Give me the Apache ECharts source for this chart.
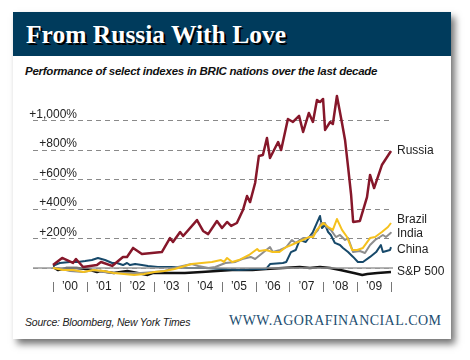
<!DOCTYPE html>
<html>
<head>
<meta charset="utf-8">
<script src="https://cdn.jsdelivr.net/npm/echarts@6/dist/echarts.min.js"></script>
<style>
  html, body { margin:0; padding:0; background:#fff; width:470px; height:360px; overflow:hidden; }
  #card { position:absolute; left:13px; top:12px; width:438px; height:327px; background:#fff;
          box-shadow: 4px 5px 7px rgba(0,0,0,0.55); }
  #head { position:absolute; left:0; top:0; width:438px; height:44px; background:#003b5c; }
  #title { position:absolute; left:13px; top:8px; font-family:"Liberation Serif", serif; font-weight:bold;
           font-size:25.5px; color:#fff; text-shadow: 2px 2px 0 #000; white-space:nowrap; }
  #sub { position:absolute; left:25px; top:65px; font-family:"Liberation Sans", sans-serif; font-weight:bold;
         font-style:italic; font-size:11.5px; color:#111; white-space:nowrap; letter-spacing:-0.25px; }
  #src { position:absolute; left:25px; top:316px; font-family:"Liberation Sans", sans-serif; font-style:italic;
         font-size:10.5px; color:#222; white-space:nowrap; letter-spacing:-0.2px; }
  #url { position:absolute; left:229px; top:313px; font-family:"Liberation Serif", serif;
         font-size:14px; color:#1d4e70; white-space:nowrap; letter-spacing:0.45px; }
  #chart { position:absolute; left:0; top:0; width:470px; height:360px; }
</style>
</head>
<body>
<div id="card"><div id="head"><div id="title">From Russia With Love</div></div></div>
<div id="sub">Performance of select indexes in BRIC nations over the last decade</div>
<div id="src">Source: Bloomberg, New York Times</div>
<div id="url">WWW.AGORAFINANCIAL.COM</div>
<div id="chart"></div>
<script>
// Year labels and tick values
var yearLabels = ["\u201900","\u201901","\u201902","\u201903","\u201904","\u201905","\u201906","\u201907","\u201908","\u201909"];
var yTicks = [200, 400, 600, 800, 1000];

// Series: [year (decimal), % change]
var russia = [[2000.00,20],[2000.27,68],[2000.59,34],[2000.68,61],[2000.89,7],[2001.30,20],[2001.42,41],[2001.75,14],[2002.07,75],[2002.19,75],[2002.37,136],[2002.63,95],[2003.22,108],[2003.46,203],[2003.55,176],[2003.76,244],[2003.85,217],[2004.26,325],[2004.44,251],[2004.59,230],[2004.85,319],[2005.00,271],[2005.15,312],[2005.27,285],[2005.44,305],[2005.62,393],[2005.74,488],[2005.83,447],[2005.98,576],[2006.09,759],[2006.21,766],[2006.33,881],[2006.42,746],[2006.66,854],[2006.75,800],[2006.95,1010],[2007.10,990],[2007.28,1031],[2007.40,922],[2007.57,1051],[2007.69,990],[2007.81,1139],[2007.90,1125],[2007.99,1146],[2008.05,936],[2008.20,990],[2008.28,976],[2008.40,1166],[2008.55,983],[2008.64,868],[2008.73,685],[2008.82,495],[2008.88,312],[2009.08,319],[2009.29,481],[2009.38,631],[2009.50,542],[2009.73,698],[2010.00,793]];

var brazil = [[2000.0,0],[2000.3,-14],[2000.6,-14],[2000.9,-27],[2001.2,-14],[2001.5,-20],[2001.8,-34],[2002.1,-41],[2002.4,-47],[2002.7,-41],[2003.0,-27],[2003.3,-20],[2003.6,-7],[2003.9,14],[2004.1,27],[2004.4,34],[2004.7,41],[2004.97,54],[2005.06,41],[2005.15,68],[2005.3,41],[2005.5,54],[2005.8,88],[2006.04,129],[2006.1,115],[2006.3,122],[2006.5,108],[2006.7,108],[2006.9,142],[2007.05,156],[2007.25,176],[2007.4,190],[2007.57,210],[2007.7,210],[2007.8,258],[2008.0,305],[2008.14,278],[2008.28,258],[2008.4,332],[2008.55,258],[2008.7,210],[2008.85,122],[2009.0,122],[2009.17,136],[2009.38,203],[2009.53,210],[2009.73,244],[2009.91,278],[2010.0,305]];

var india = [[2000.0,0],[2000.15,0],[2000.5,-20],[2000.9,-27],[2001.2,-14],[2001.5,-27],[2001.8,-34],[2002.2,-34],[2002.6,-34],[2003.0,-27],[2003.3,-20],[2003.7,7],[2004.1,27],[2004.3,14],[2004.6,0],[2004.8,7],[2005.1,34],[2005.4,41],[2005.6,61],[2005.85,75],[2005.98,61],[2006.2,102],[2006.42,142],[2006.5,108],[2006.72,122],[2006.9,142],[2007.07,190],[2007.18,170],[2007.4,203],[2007.54,203],[2007.7,224],[2007.84,258],[2007.93,305],[2008.05,305],[2008.08,278],[2008.22,258],[2008.37,210],[2008.49,224],[2008.64,190],[2008.73,203],[2008.88,108],[2009.08,115],[2009.23,102],[2009.38,156],[2009.53,190],[2009.67,210],[2009.76,224],[2009.85,210],[2009.99,237],[2010.0,244]];

var china = [[2000.0,14],[2000.2,34],[2000.5,41],[2000.74,41],[2000.95,47],[2001.15,54],[2001.33,68],[2001.54,54],[2001.75,34],[2001.89,34],[2002.07,20],[2002.19,34],[2002.28,20],[2002.43,27],[2002.63,20],[2002.81,14],[2003.1,7],[2003.5,7],[2004.0,0],[2004.5,0],[2005.0,-7],[2005.5,-14],[2006.0,-7],[2006.3,-7],[2006.42,27],[2006.8,34],[2006.9,41],[2007.04,108],[2007.18,122],[2007.3,190],[2007.48,176],[2007.69,244],[2007.9,353],[2007.96,271],[2008.05,292],[2008.14,244],[2008.22,224],[2008.34,170],[2008.49,156],[2008.58,136],[2008.73,108],[2008.88,75],[2009.02,41],[2009.17,41],[2009.38,75],[2009.56,108],[2009.70,156],[2009.76,108],[2009.97,122],[2010.0,142]];

var sp500 = [[2000.0,7],[2000.15,-14],[2000.4,0],[2000.7,0],[2001.0,-7],[2001.3,-27],[2001.4,-20],[2001.8,-34],[2002.2,-20],[2002.5,-34],[2002.8,-47],[2002.95,-34],[2003.4,-34],[2003.9,-34],[2004.4,-27],[2005.3,-14],[2005.9,-14],[2006.3,-7],[2006.8,0],[2007.3,7],[2007.6,0],[2007.9,7],[2008.2,0],[2008.5,-14],[2008.9,-34],[2009.15,-47],[2009.3,-41],[2009.6,-34],[2010.0,-27]];

var FONT = '"Liberation Sans", Arial, sans-serif';
function mk(name, data, color, width, z, offset) {
  return {
    name: name, type: 'line', data: data, xAxisIndex: 1, yAxisIndex: 1,
    showSymbol: false, symbol: 'none', z: z, animation: false,
    lineStyle: { color: color, width: width, join: 'round' },
    endLabel: { show: true, formatter: name, color: '#222', fontSize: 12, fontFamily: FONT,
                distance: 6, offset: offset || [0,0] }
  };
}

var chart = echarts.init(document.getElementById('chart'), null, { renderer: 'canvas' });
chart.setOption({
  animation: false,
  backgroundColor: 'transparent',
  grid: [
    { left: 33, right: 77, top: 91, bottom: 62.5 },
    { left: 53, right: 79, top: 91, bottom: 62.5 }
  ],
  xAxis: [
    { type: 'value', gridIndex: 0, min: 0, max: 1, show: false },
    { type: 'value', gridIndex: 1, min: 2000, max: 2010, show: false },
    { type: 'category', gridIndex: 1, data: yearLabels, position: 'bottom', offset: -15.5,
      boundaryGap: true,
      axisLine: { show: false },
      axisTick: { show: true, length: 10, lineStyle: { color: '#777', width: 1 } },
      axisLabel: { margin: 5, verticalAlign: 'middle', color: '#222', fontSize: 12, fontFamily: FONT },
      splitLine: { show: false } }
  ],
  yAxis: [
    { type: 'value', gridIndex: 0, min: -200, max: 1200, interval: 200,
      axisLine: { show: false }, axisTick: { show: false },
      axisLabel: { margin: -44, verticalAlign: 'bottom', color: '#222', fontSize: 12, fontFamily: FONT,
        formatter: function (v) { return yTicks.indexOf(v) >= 0 ? '+' + v.toLocaleString('en-US') + '%' : ''; } },
      splitLine: { show: true, showMinLine: false, showMaxLine: false,
        lineStyle: { color: '#8a8a8a', width: 1, type: [5, 4] } } },
    { type: 'value', gridIndex: 1, min: -200, max: 1200, show: false }
  ],
  series: [
    { type: 'line', xAxisIndex: 0, yAxisIndex: 0, data: [], z: 1, silent: true,
      markLine: { silent: true, symbol: ['none', 'none'], label: { show: false }, animation: false,
        lineStyle: { color: '#9a9a9a', width: 1.5, type: 'solid' },
        data: [{ yAxis: 0 }] } },
    mk('S&P 500', sp500, '#111111', 2.5, 3, [0, 0]),
    mk('China', china, '#17496a', 2, 4, [0, 3]),
    mk('India', india, '#8e8e8e', 2, 5, [0, 2]),
    mk('Brazil', brazil, '#f5c11e', 2, 6, [0, -3]),
    mk('Russia', russia, '#86172a', 2.5, 7, [0, 0])
  ]
});
</script>
</body>
</html>
